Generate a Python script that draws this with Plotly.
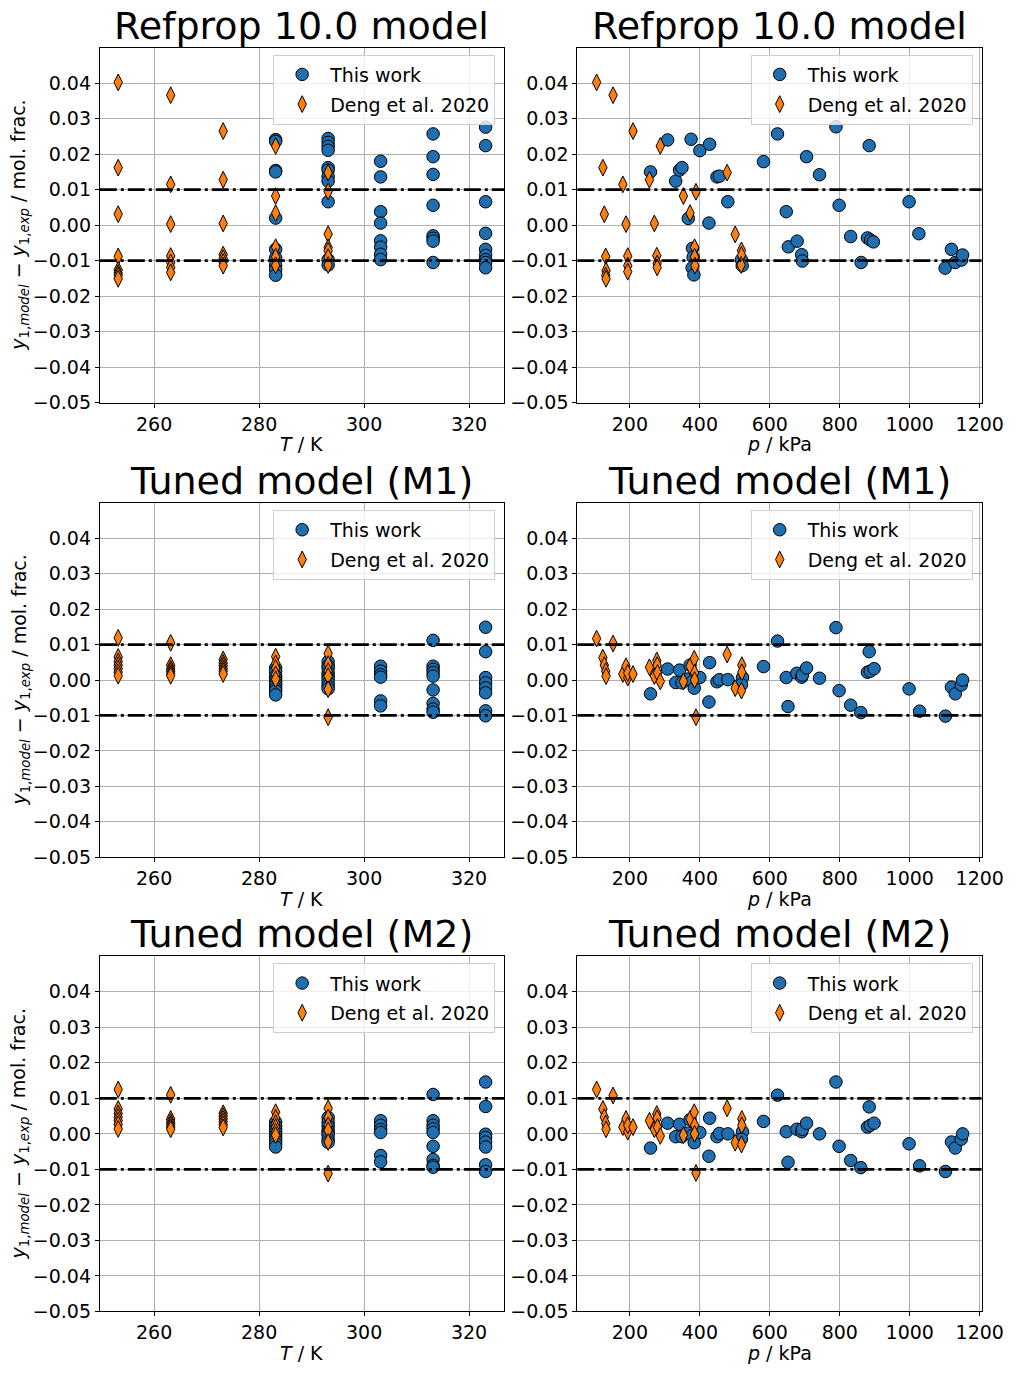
import plotly.graph_objects as go

# ---------------- DATA ----------------
# Panel 1: Refprop 10.0 model vs T
ref_T_this_T = [283.15]*10 + [293.15]*11 + [303.15]*8 + [313.15]*8 + [323.15]*9
ref_T_this_dev = [0.0241, 0.0236, 0.0154, 0.0150, 0.0020, -0.0068, -0.0092, -0.0113, -0.0125, -0.0141,
                  0.0244, 0.0233, 0.0222, 0.0211, 0.0162, 0.0155, 0.0137, 0.0124, 0.0066, -0.0097, -0.0112,
                  0.0180, 0.0136, 0.0038, 0.0006, -0.0044, -0.0062, -0.0082, -0.0097,
                  0.0257, 0.0193, 0.0143, 0.0056, -0.0030, -0.0037, -0.0045, -0.0105,
                  0.0276, 0.0224, 0.0066, -0.0023, -0.0068, -0.0085, -0.0097, -0.0105, -0.0120]
ref_T_deng_T = [253.15]*8 + [263.15]*7 + [273.15]*7 + [283.15]*6 + [293.15]*7
ref_T_deng_dev = [0.0402, 0.0162, 0.0031, -0.0088, -0.0126, -0.0135, -0.0142, -0.0151,
                  0.0366, 0.0115, 0.0003, -0.0087, -0.0105, -0.0119, -0.0133,
                  0.0265, 0.0128, 0.0005, -0.0083, -0.0093, -0.0104, -0.0114,
                  0.0223, 0.0082, 0.0034, -0.0062, -0.0089, -0.0113,
                  0.0148, 0.0095, -0.0025, -0.0063, -0.0072, -0.0090, -0.0112]

# Panel 2: Refprop 10.0 model vs p
ref_p_this_p = [308, 259, 331, 342, 349, 375, 400, 428, 449, 456, 367, 426, 480, 379, 381, 378, 383,
                519, 521, 582, 622, 647, 653, 678, 691, 693, 705, 742, 789, 798, 831, 861, 879, 884,
                888, 896, 998, 1026, 1101, 1119, 1130, 1148, 1151]
ref_p_this_dev = [0.0240, 0.0150, 0.0124, 0.0155, 0.0162, 0.0242, 0.0210, 0.0228, 0.0136, 0.0138, 0.0019,
                  0.0006, 0.0066, -0.0065, -0.0090, -0.0120, -0.0140, -0.0097, -0.0114, 0.0179, 0.0257,
                  0.0038, -0.0061, -0.0045, -0.0083, -0.0101, 0.0193, 0.0142, 0.0277, 0.0056, -0.0032,
                  -0.0105, -0.0036, 0.0224, -0.0042, -0.0047, 0.0066, -0.0024, -0.0121, -0.0068, -0.0105,
                  -0.0098, -0.0084]
ref_p_deng_p = [105, 152, 123, 127, 131, 132, 131, 132, 209, 180, 189, 194, 194, 194, 256, 270, 277, 278,
                278, 287, 353, 372, 389, 385, 385, 386, 478, 501, 519, 519, 518]
ref_p_deng_dev = [0.0402, 0.0366, 0.0162, 0.0031, -0.0088, -0.0128, -0.0142, -0.0151, 0.0265, 0.0115,
                  0.0003, -0.0087, -0.0114, -0.0131, 0.0128, 0.0005, -0.0086, -0.0108, -0.0119, 0.0223,
                  0.0082, 0.0034, 0.0094, -0.0062, -0.0089, -0.0114, 0.0148, -0.0026, -0.0071, -0.0084,
                  -0.0112]

# Panel 3: Tuned model (M1) vs T
m1_T_this_T = [283.15]*10 + [293.15]*9 + [303.15]*6 + [313.15]*9 + [323.15]*8
m1_T_this_dev = [0.0034, 0.0025, 0.0011, 0.0004, -0.0003, -0.0010, -0.0017, -0.0025, -0.0031, -0.0042,
                 0.0052, 0.0040, 0.0034, 0.0020, 0.0011, 0.0004, -0.0008, -0.0017, -0.0025,
                 0.0039, 0.0025, 0.0015, 0.0008, -0.0059, -0.0073,
                 0.0112, 0.0039, 0.0030, 0.0021, 0.0011, -0.0028, -0.0066, -0.0082, -0.0091,
                 0.0149, 0.0080, 0.0007, -0.0008, -0.0022, -0.0036, -0.0087, -0.0101]
m1_T_deng_T = [253.15]*7 + [263.15]*6 + [273.15]*6 + [283.15]*5 + [293.15]*6
m1_T_deng_dev = [0.0119, 0.0065, 0.0052, 0.0042, 0.0032, 0.0022, 0.0012,
                 0.0105, 0.0042, 0.0032, 0.0025, 0.0018, 0.0012,
                 0.0058, 0.0048, 0.0040, 0.0032, 0.0025, 0.0017,
                 0.0066, 0.0047, 0.0034, 0.0016, 0.0002,
                 0.0075, 0.0045, 0.0025, 0.0011, -0.0026, -0.0105]

# Panel 4: Tuned model (M1) vs p
m1_p_this_p = [308, 259, 331, 342, 349, 367, 372, 378, 384, 400, 428, 426, 449, 456, 480, 522, 519, 582,
               622, 647, 652, 677, 691, 693, 705, 742, 789, 798, 831, 860, 879, 884, 887, 898, 998, 1028,
               1102, 1119, 1130, 1147, 1151]
m1_p_this_dev = [0.0031, -0.0039, -0.0007, 0.0028, -0.0008, 0.0003, 0.0042, -0.0005, -0.0023, 0.0007,
                 0.0049, -0.0062, -0.0005, 0.0001, 0.0001, 0.0007, -0.0013, 0.0038, 0.0110, 0.0007,
                 -0.0075, 0.0019, 0.0008, 0.0014, 0.0034, 0.0005, 0.0148, -0.0030, -0.0071, -0.0092,
                 0.0022, 0.0080, 0.0025, 0.0032, -0.0025, -0.0088, -0.0102, -0.0020, -0.0039, -0.0014,
                 0.0000]
m1_p_deng_p = [105, 152, 123, 127, 131, 132, 180, 189, 194, 194, 209, 256, 270, 277, 278, 279, 287, 353,
               372, 384, 385, 385, 389, 478, 501, 519, 520, 520]
m1_p_deng_dev = [0.0117, 0.0103, 0.0063, 0.0042, 0.0025, 0.0011, 0.0017, 0.0039, 0.0007, 0.0020, 0.0017,
                 0.0036, 0.0011, 0.0055, 0.0042, 0.0020, -0.0004, -0.0004, 0.0039, 0.0060, 0.0020,
                 0.0000, -0.0105, 0.0072, -0.0023, -0.0030, 0.0042, 0.0022]

# Panel 5: Tuned model (M2) vs T
m2_T_this_T = [283.15]*9 + [293.15]*8 + [303.15]*6 + [313.15]*9 + [323.15]*8
m2_T_this_dev = [0.0033, 0.0022, 0.0012, 0.0004, -0.0004, -0.0012, -0.0019, -0.0028, -0.0037,
                 0.0046, 0.0033, 0.0022, 0.0010, 0.0003, -0.0004, -0.0016, -0.0024,
                 0.0037, 0.0024, 0.0012, 0.0004, -0.0061, -0.0079,
                 0.0111, 0.0037, 0.0024, 0.0014, 0.0004, -0.0035, -0.0072, -0.0089, -0.0094,
                 0.0146, 0.0077, -0.0001, -0.0010, -0.0023, -0.0037, -0.0087, -0.0106]
m2_T_deng_T = [253.15]*7 + [263.15]*6 + [273.15]*6 + [283.15]*6 + [293.15]*6
m2_T_deng_dev = [0.0125, 0.0070, 0.0057, 0.0047, 0.0037, 0.0027, 0.0014,
                 0.0110, 0.0042, 0.0033, 0.0026, 0.0019, 0.0013,
                 0.0058, 0.0050, 0.0042, 0.0034, 0.0026, 0.0018,
                 0.0061, 0.0045, 0.0030, 0.0019, 0.0006, -0.0004,
                 0.0072, 0.0046, 0.0024, 0.0010, -0.0023, -0.0112]

# Panel 6: Tuned model (M2) vs p
m2_p_this_p = [308, 259, 331, 342, 349, 367, 372, 378, 384, 400, 428, 426, 449, 456, 480, 522, 519, 582,
               622, 647, 652, 677, 691, 693, 705, 742, 789, 798, 831, 860, 879, 884, 887, 898, 998, 1028,
               1102, 1119, 1130, 1147, 1151]
m2_p_this_dev = [0.0030, -0.0040, -0.0008, 0.0027, -0.0008, 0.0002, 0.0040, -0.0005, -0.0025, 0.0004,
                 0.0044, -0.0063, -0.0008, 0.0001, 0.0000, 0.0006, -0.0015, 0.0035, 0.0109, 0.0006,
                 -0.0080, 0.0013, 0.0006, 0.0013, 0.0030, 0.0000, 0.0146, -0.0035, -0.0075, -0.0095,
                 0.0019, 0.0076, 0.0024, 0.0030, -0.0028, -0.0090, -0.0106, -0.0023, -0.0040, -0.0015,
                 0.0000]
m2_p_deng_p = [105, 152, 123, 127, 131, 132, 180, 189, 194, 194, 209, 256, 270, 277, 278, 279, 287, 353,
               372, 384, 385, 385, 389, 478, 501, 519, 520, 520]
m2_p_deng_dev = [0.0125, 0.0108, 0.0070, 0.0047, 0.0029, 0.0013, 0.0019, 0.0042, 0.0006, 0.0024, 0.0019,
                 0.0037, 0.0013, 0.0056, 0.0044, 0.0019, -0.0006, -0.0004, 0.0042, 0.0061, 0.0024,
                 0.0000, -0.0110, 0.0072, -0.0025, -0.0030, 0.0042, 0.0024]

panel_titles = ["Refprop 10.0 model", "Refprop 10.0 model",
                "Tuned model (M1)", "Tuned model (M1)",
                "Tuned model (M2)", "Tuned model (M2)"]
series_names = ["This work", "Deng et al. 2020"]
y_ticks = [-0.05, -0.04, -0.03, -0.02, -0.01, 0.00, 0.01, 0.02, 0.03, 0.04]
T_ticks = [260, 280, 300, 320]
p_ticks = [200, 400, 600, 800, 1000, 1200]
tolerance_band = [-0.01, 0.01]

# ---------------- LAYOUT ----------------
W, H = 1027, 1375
FONT = "DejaVu Sans"
FS = 19
BLUE = "#1f6eb0"
ORANGE = "#ff7f0e"

cols = [(102, 515), (590, 1003)]
rows = [(48, 406), (507, 864), (964, 1322)]

panels = [
    (ref_T_this_T, ref_T_this_dev, ref_T_deng_T, ref_T_deng_dev),
    (ref_p_this_p, ref_p_this_dev, ref_p_deng_p, ref_p_deng_dev),
    (m1_T_this_T, m1_T_this_dev, m1_T_deng_T, m1_T_deng_dev),
    (m1_p_this_p, m1_p_this_dev, m1_p_deng_p, m1_p_deng_dev),
    (m2_T_this_T, m2_T_this_dev, m2_T_deng_T, m2_T_deng_dev),
    (m2_p_this_p, m2_p_this_dev, m2_p_deng_p, m2_p_deng_dev),
]


def fmt(v):
    s = f"{v:.2f}"
    if s == "-0.00":
        s = "0.00"
    return s.replace("-", "\u2212")


fig = go.Figure()
layout = dict(
    width=W, height=H, margin=dict(l=0, r=0, t=0, b=0),
    paper_bgcolor="white", plot_bgcolor="white",
    font=dict(family=FONT, size=FS, color="black"),
    showlegend=True,
)
annotations = []
shapes = []

for i, (xa, ya, xb, yb) in enumerate(panels):
    k = i + 1
    r, c = divmod(i, 2)
    x0, x1 = cols[c]
    top, bot = rows[r]
    sx = "" if k == 1 else str(k)
    xref, yref = "x" + sx, "y" + sx
    leg = "legend" + sx

    fig.add_trace(go.Scatter(
        x=xa, y=ya, mode="markers", name=series_names[0], xaxis=xref, yaxis=yref, legend=leg,
        legendgroup="this" + sx,
        marker=dict(symbol="circle", size=12.5, color=BLUE, line=dict(color="black", width=1)),
    ))
    fig.add_trace(go.Scatter(
        x=xb, y=yb, mode="markers", name=series_names[1], xaxis=xref, yaxis=yref, legend=leg,
        legendgroup="deng" + sx,
        marker=dict(symbol="diamond-tall", size=12, color=ORANGE, line=dict(color="black", width=1)),
    ))

    common = dict(showline=True, linecolor="black", linewidth=1, mirror=True,
                  ticks="outside", ticklen=4, tickwidth=1, tickcolor="black",
                  showgrid=True, gridcolor="#b0b0b0", gridwidth=1, zeroline=False,
                  tickfont=dict(family=FONT, size=FS, color="black"))
    if c == 0:
        xax = dict(common, range=[249.65, 326.65], tickvals=T_ticks,
                   ticktext=[str(t) for t in T_ticks])
        xtitle = "<i>T</i> / K"
    else:
        xax = dict(common, range=[50, 1205], tickvals=p_ticks,
                   ticktext=[str(t) for t in p_ticks])
        xtitle = "<i>p</i> / kPa"
    xax.update(domain=[x0 / W, x1 / W], anchor=yref)
    yax = dict(common, range=[-0.05, 0.05], tickvals=y_ticks,
               ticktext=[fmt(v) for v in y_ticks],
               domain=[1 - bot / H, 1 - top / H], anchor=xref)
    layout["xaxis" + sx] = xax
    layout["yaxis" + sx] = yax

    layout[leg] = dict(
        x=(x1 - 9) / W, y=1 - (top + 7) / H, xanchor="right", yanchor="top",
        bgcolor="rgba(255,255,255,0.8)", bordercolor="#d0d0d0", borderwidth=1,
        font=dict(family=FONT, size=FS, color="black"),
        itemwidth=46, tracegroupgap=2, traceorder="grouped",
    )

    for lvl in tolerance_band:
        shapes.append(dict(type="line", xref=xref + " domain", yref=yref,
                           x0=0, x1=1, y0=lvl, y1=lvl, layer="above",
                           line=dict(color="black", width=2.7, dash="17px,4px,3px,4px")))

    annotations.append(dict(text=panel_titles[i], xref="paper", yref="paper",
                            x=(x0 + x1) / 2 / W, y=1 - top / H, xanchor="center", yanchor="bottom",
                            yshift=-2, showarrow=False, font=dict(family=FONT, size=38, color="black")))
    annotations.append(dict(text=xtitle, xref="paper", yref="paper",
                            x=(x0 + x1) / 2 / W, y=1 - (bot + 42) / H, xanchor="center", yanchor="middle",
                            showarrow=False, font=dict(family=FONT, size=FS, color="black")))
    if c == 0:
        annotations.append(dict(
            text="<i>y</i><sub>1,<i>model</i></sub> \u2212 <i>y</i><sub>1,<i>exp</i></sub> / mol. frac.",
            xref="paper", yref="paper", x=20 / W, y=1 - (top + bot) / 2 / H,
            xanchor="center", yanchor="middle", textangle=-90, showarrow=False,
            font=dict(family=FONT, size=FS, color="black")))

layout["annotations"] = annotations
layout["shapes"] = shapes
fig.update_layout(**layout)
fig.write_html("out.html")
